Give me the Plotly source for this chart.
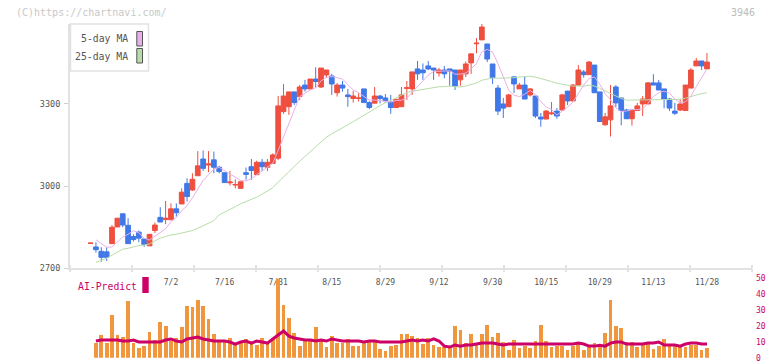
import plotly.graph_objects as go
import pandas as pd

W, H = 772, 361

# ---- data ----
tick_labels = ["7/2", "7/16", "7/31", "8/15", "8/29", "9/12", "9/30", "10/15", "10/29", "11/13", "11/28"]
tick_index = [15, 25, 35, 45, 55, 65, 75, 85, 95, 105, 115]

open_ = [2791, 2778, 2762, 2760, 2790, 2851, 2899, 2857, 2816, 2832,
         2807, 2782, 2838, 2886, 2878, 2877, 2917, 2935, 3010, 2986,
         3038, 3099, 3077, 3096, 3069, 3049, 3012, 3004, 2992, 3049,
         3071, 3042, 3087, 3069, 3083, 3102, 3272, 3290, 3344, 3327,
         3369, 3355, 3391, 3362, 3406, 3402, 3341, 3369, 3333, 3320,
         3320, 3355, 3305, 3303, 3329, 3322, 3307, 3287, 3290, 3357,
         3355, 3428, 3424, 3439, 3431, 3413, 3424, 3428, 3424, 3388,
         3410, 3450, 3520, 3534, 3519, 3446, 3358, 3300, 3290, 3399,
         3355, 3369, 3333, 3329, 3252, 3245, 3264, 3274, 3278, 3347,
         3311, 3369, 3417, 3407, 3442, 3344, 3224, 3242, 3362, 3322,
         3278, 3246, 3276, 3300, 3300, 3377, 3377, 3355, 3318, 3274,
         3278, 3276, 3358, 3439, 3457, 3428]
high = [2791, 2795, 2777, 2777, 2858, 2883, 2899, 2883, 2824, 2838,
        2807, 2824, 2867, 2923, 2946, 2937, 2937, 2992, 3029, 3047,
        3128, 3130, 3128, 3126, 3074, 3049, 3055, 3025, 3016, 3068,
        3099, 3093, 3099, 3099, 3120, 3329, 3373, 3344, 3344, 3369,
        3388, 3391, 3434, 3431, 3424, 3410, 3377, 3384, 3355, 3347,
        3339, 3355, 3310, 3362, 3333, 3336, 3333, 3320, 3362, 3384,
        3418, 3457, 3448, 3457, 3431, 3432, 3439, 3428, 3424, 3424,
        3455, 3483, 3541, 3592, 3519, 3446, 3369, 3322, 3337, 3399,
        3377, 3402, 3358, 3329, 3267, 3278, 3307, 3285, 3337, 3347,
        3373, 3442, 3424, 3457, 3442, 3344, 3267, 3369, 3369, 3322,
        3282, 3278, 3304, 3329, 3380, 3409, 3388, 3355, 3322, 3304,
        3318, 3369, 3431, 3468, 3457, 3486]
low = [2791, 2757, 2724, 2727, 2790, 2851, 2850, 2790, 2798, 2795,
       2779, 2782, 2829, 2869, 2861, 2877, 2889, 2935, 2944, 2983,
       3038, 3055, 3051, 3047, 3047, 3013, 3002, 2992, 2992, 3023,
       3023, 3042, 3055, 3055, 3083, 3095, 3264, 3260, 3296, 3315,
       3345, 3355, 3360, 3358, 3395, 3333, 3327, 3345, 3290, 3305,
       3309, 3305, 3281, 3303, 3302, 3304, 3264, 3287, 3290, 3315,
       3333, 3388, 3388, 3424, 3388, 3400, 3394, 3366, 3351, 3366,
       3398, 3410, 3485, 3534, 3453, 3373, 3260, 3249, 3289, 3340,
       3355, 3318, 3327, 3249, 3217, 3245, 3260, 3246, 3278, 3296,
       3311, 3366, 3396, 3407, 3341, 3236, 3221, 3181, 3289, 3222,
       3246, 3221, 3276, 3256, 3300, 3369, 3351, 3284, 3274, 3260,
       3274, 3276, 3358, 3439, 3424, 3428]
close = [2792, 2768, 2740, 2740, 2850, 2883, 2858, 2790, 2805, 2810,
         2787, 2824, 2858, 2869, 2883, 2917, 2903, 2978, 2962, 3025,
         3074, 3065, 3081, 3069, 3053, 3013, 3015, 3006, 3016, 3043,
         3057, 3087, 3071, 3087, 3114, 3293, 3329, 3344, 3305, 3362,
         3355, 3391, 3382, 3431, 3424, 3373, 3369, 3358, 3327, 3329,
         3322, 3305, 3287, 3329, 3320, 3312, 3287, 3316, 3333, 3359,
         3417, 3410, 3414, 3428, 3424, 3424, 3410, 3420, 3366, 3424,
         3446, 3483, 3522, 3581, 3464, 3396, 3274, 3285, 3333, 3373,
         3369, 3318, 3355, 3256, 3245, 3274, 3267, 3256, 3333, 3311,
         3369, 3424, 3407, 3453, 3341, 3236, 3253, 3293, 3304, 3276,
         3246, 3278, 3293, 3318, 3377, 3369, 3351, 3318, 3285, 3266,
         3300, 3369, 3424, 3457, 3439, 3453]

ma5_head = [None, 2804, 2791, 2777]
ma25_head = [None, 2722, 2728, 2737, 2749, 2759, 2770, 2773, 2779, 2783, 2785, 2789,
             2800, 2810, 2816, 2822, 2824, 2828, 2833, 2838, 2846, 2855, 2864, 2874]

volume = [None, 9.2, 14.3, 9.2, 26.9, 14.3, 13.0, 35.7, 9.2, 6.1,
          7.3, 16.2, 11.1, 22.5, 19.9, 10.5, 12.4, 19.3, 32.5, 31.9,
          36.3, 32.5, 24.3, 14.9, 10.5, 11.1, 12.4, 8.6, 9.9, 11.8,
          9.9, 8.0, 12.4, 8.6, 12.4, 49.5, 33.2, 25.0, 15.5, 7.3,
          11.8, 11.1, 19.3, 11.8, 6.7, 13.6, 9.2, 9.2, 11.8, 7.3,
          7.3, 9.9, 9.9, 10.5, 5.5, 4.2, 7.3, 8.0, 14.9, 14.9,
          13.6, 12.4, 8.6, 12.4, 8.0, 6.7, 6.7, 6.7, 19.9, 17.4,
          9.2, 14.9, 8.6, 14.9, 20.6, 13.0, 15.5, 9.9, 4.8, 11.1,
          6.1, 7.3, 6.1, 10.5, 20.6, 10.5, 6.7, 7.3, 7.3, 4.8,
          7.3, 8.6, 4.8, 7.3, 9.2, 7.3, 15.5, 36.3, 19.9, 18.7,
          9.9, 9.9, 6.7, 8.6, 8.6, 5.5, 7.3, 11.8, 7.3, 7.3,
          6.7, 6.7, 8.0, 8.0, 4.8, 6.1]
ai_predict = [None, 10.5, 11.1, 11.1, 11.1, 11.1, 10.5, 10.5, 11.1, 9.9,
              9.9, 9.9, 9.9, 9.9, 11.1, 11.8, 10.5, 9.9, 11.8, 12.4,
              13.0, 11.8, 11.1, 10.5, 10.5, 10.5, 9.9, 8.6, 9.9, 10.5,
              9.2, 10.5, 9.9, 9.2, 11.8, 14.3, 16.8, 13.6, 12.4, 11.8,
              11.1, 11.1, 10.5, 11.1, 10.5, 11.8, 11.1, 10.5, 10.5, 10.5,
              10.5, 9.9, 10.5, 10.5, 9.9, 9.9, 9.9, 9.9, 9.9, 10.5,
              11.1, 10.5, 11.1, 10.5, 11.8, 10.5, 7.3, 6.7, 8.0, 7.3,
              8.0, 8.0, 8.6, 9.2, 9.2, 9.2, 8.6, 8.0, 8.6, 8.6,
              8.6, 8.6, 8.6, 8.6, 8.6, 8.6, 8.6, 8.6, 8.6, 8.6,
              8.6, 9.2, 8.6, 7.3, 7.3, 7.9, 7.3, 9.2, 9.9, 9.9,
              8.6, 8.6, 8.6, 8.6, 9.2, 9.2, 9.9, 8.0, 8.0, 8.0,
              7.3, 8.6, 9.2, 9.2, 8.6, 8.6]

n = len(close)
idx = list(range(n))

s_close = pd.Series(close, dtype=float)
ma5 = s_close.rolling(5).mean().tolist()
ma5[:len(ma5_head)] = ma5_head
ma25 = s_close.rolling(25).mean().tolist()
ma25[:len(ma25_head)] = ma25_head

# ---- styling ----
RED = "#ef4f3f"
BLUE = "#4078e8"
ORANGE = "#f0963c"
CRIMSON = "#cc0066"
PINK = "#e8b0e8"
GREEN = "#b8dca8"
AXIS = "#e2e2e2"
TXT = "#555555"
MONO = "DejaVu Sans Mono"

X_RANGE = [-3.84, 123.4]


def px(x):
    return x / W


def py(y):
    return 1 - y / H


fig = go.Figure()

fig.add_trace(go.Scatter(x=idx, y=ma25, mode="lines", line=dict(color=GREEN, width=1),
                         hoverinfo="skip", showlegend=False, xaxis="x", yaxis="y"))
fig.add_trace(go.Scatter(x=idx, y=ma5, mode="lines", line=dict(color=PINK, width=1),
                         hoverinfo="skip", showlegend=False, xaxis="x", yaxis="y"))
fig.add_trace(go.Candlestick(
    x=idx, open=open_, high=high, low=low, close=close,
    increasing=dict(line=dict(color=RED, width=1), fillcolor=RED),
    decreasing=dict(line=dict(color=BLUE, width=1), fillcolor=BLUE),
    whiskerwidth=0, showlegend=False, xaxis="x", yaxis="y"))

fig.add_trace(go.Bar(x=idx, y=volume, marker=dict(color=ORANGE, line=dict(width=0)),
                     width=0.7, showlegend=False, xaxis="x2", yaxis="y2"))
fig.add_trace(go.Scatter(x=idx, y=ai_predict, mode="lines",
                         line=dict(color=CRIMSON, width=3), showlegend=False,
                         xaxis="x2", yaxis="y2"))

grid_ticks = [X_RANGE[0] + k * 11.567 for k in range(12)]

# tick-mark axis trace to activate xaxis3
fig.add_trace(go.Scatter(x=[None], y=[None], xaxis="x3", yaxis="y", showlegend=False,
                         hoverinfo="skip"))

fig.update_layout(
    template="none",
    width=W, height=H,
    margin=dict(l=0, r=0, t=0, b=0, pad=0),
    paper_bgcolor="white", plot_bgcolor="white",
    boxgap=0.12, boxgroupgap=0,
    bargap=0,
    hovermode=False,
    font=dict(family=MONO, color=TXT),
    xaxis=dict(domain=[px(70), px(752)], range=X_RANGE, anchor="y", automargin=False,
               tickvals=tick_index, ticktext=tick_labels, ticks="",
               tickfont=dict(size=8, color=TXT, family=MONO),
               ticklabelstandoff=5,
               showline=True, linecolor=AXIS, linewidth=2,
               showgrid=False, zeroline=False, rangeslider=dict(visible=False),
               minor=dict(tickvals=grid_ticks, ticks="inside", ticklen=3,
                          tickcolor=AXIS, tickwidth=2, showgrid=False)),
    xaxis3=dict(domain=[px(70), px(752)], range=X_RANGE, anchor="y", overlaying="x",
                automargin=False,
                tickvals=grid_ticks, ticks="outside", ticklen=3, tickcolor=AXIS,
                tickwidth=2, showticklabels=False, showgrid=False, zeroline=False,
                showline=False),
    yaxis=dict(domain=[py(268.3), py(24)], range=[2700, 3592], anchor="x", automargin=False,
               tickvals=[2700, 3000, 3300], ticks="outside", ticklen=4,
               tickcolor="#d0d0d0", tickwidth=1,
               tickfont=dict(size=8.5, color=TXT, family=MONO),
               ticklabelstandoff=2, ticklabeloverflow="allow",
               showline=True, linecolor=AXIS, linewidth=2,
               showgrid=False, zeroline=False),
    xaxis2=dict(domain=[px(70), px(752)], range=X_RANGE, anchor="y2", automargin=False,
                showticklabels=False, ticks="", showline=False, showgrid=False,
                zeroline=False),
    yaxis2=dict(domain=[py(357.7), py(278.3)], range=[0, 50], anchor="x2", side="right",
                automargin=False,
                tickvals=[0, 10, 20, 30, 40, 50], ticks="",
                tickfont=dict(size=8, color=CRIMSON, family=MONO),
                ticklabelstandoff=3, ticklabeloverflow="allow",
                showline=False, showgrid=False, zeroline=False),
)

shapes = [
    # legend box
    dict(type="rect", xref="paper", yref="paper", x0=px(70.5), x1=px(148.5),
         y0=py(71), y1=py(24), line=dict(color=AXIS, width=1.5), fillcolor="white",
         layer="above"),
    dict(type="rect", xref="paper", yref="paper", x0=px(136.8), x1=px(142.5),
         y0=py(46), y1=py(31.5), line=dict(color="#555555", width=1), fillcolor=PINK,
         layer="above"),
    dict(type="rect", xref="paper", yref="paper", x0=px(136.8), x1=px(142.5),
         y0=py(63), y1=py(48.5), line=dict(color="#555555", width=1), fillcolor=GREEN,
         layer="above"),
    # AI-Predict swatch
    dict(type="rect", xref="paper", yref="paper", x0=px(142.3), x1=px(148.7),
         y0=py(293), y1=py(277), line=dict(width=0), fillcolor=CRIMSON, layer="above"),
]

annotations = [
    dict(text="(C)https://chartnavi.com/", x=px(14), y=py(12), xref="paper", yref="paper",
         xanchor="left", yanchor="middle", showarrow=False,
         font=dict(size=10, color="#c8c8c8", family=MONO)),
    dict(text="3946", x=px(757), y=py(12), xref="paper", yref="paper",
         xanchor="right", yanchor="middle", showarrow=False,
         font=dict(size=10, color="#bbbbbb", family=MONO)),
    dict(text="5-day MA", x=px(130), y=py(39), xref="paper", yref="paper",
         xanchor="right", yanchor="middle", showarrow=False,
         font=dict(size=9.8, color=TXT, family=MONO)),
    dict(text="25-day MA", x=px(130), y=py(56.5), xref="paper", yref="paper",
         xanchor="right", yanchor="middle", showarrow=False,
         font=dict(size=9.8, color=TXT, family=MONO)),
    dict(text="AI-Predict", x=px(75.5), y=py(286), xref="paper", yref="paper",
         xanchor="left", yanchor="middle", showarrow=False,
         font=dict(size=9.8, color=CRIMSON, family=MONO)),
]

fig.update_layout(shapes=shapes, annotations=annotations)

fig.write_html("out.html",
               config={"displayModeBar": False, "staticPlot": True},
               post_script="document.body.style.margin='0px';document.body.style.overflow='hidden';")
